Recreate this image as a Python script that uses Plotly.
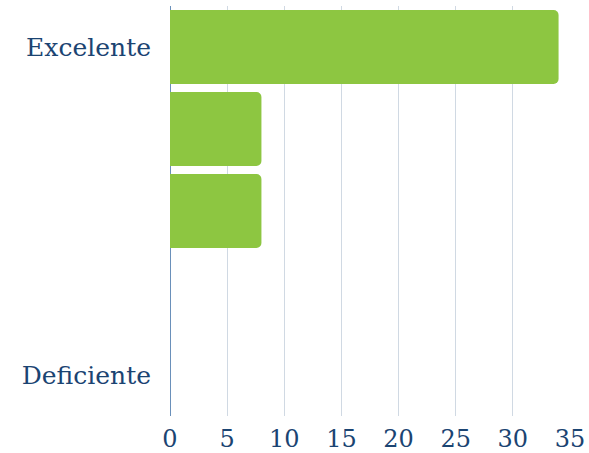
import plotly.graph_objects as go

categories = ["Excelente", "Bueno", "Regular", "Malo", "Deficiente"]
values = [34, 8, 8, 0, 0]
shown_labels = ["Excelente", "Deficiente"]
x_ticks = [0, 5, 10, 15, 20, 25, 30, 35]

text_color = "#1b4472"
bar_color = "#8dc641"

fig = go.Figure(
    go.Bar(
        x=values,
        y=categories,
        orientation="h",
        marker=dict(color=bar_color, line=dict(width=0)),
        hoverinfo="x+y",
    )
)

fig.update_layout(
    width=589,
    height=453,
    margin=dict(l=170, r=19, t=6, b=37),
    paper_bgcolor="white",
    plot_bgcolor="white",
    bargap=0.1,
    barcornerradius=5,
    showlegend=False,
    font=dict(family="DejaVu Serif", color=text_color, size=24),
)

fig.update_xaxes(
    range=[0, 35],
    tickvals=x_ticks,
    ticktext=[str(v) for v in x_ticks],
    showgrid=True,
    gridcolor="#d0d9e3",
    gridwidth=1,
    zeroline=True,
    zerolinecolor="#6a90ba",
    zerolinewidth=1,
    showline=False,
    ticks="",
    tickfont=dict(size=24, color=text_color),
    ticklabelstandoff=6,
    automargin=False,
)

fig.update_yaxes(
    categoryorder="array",
    categoryarray=categories,
    range=[4.5, -0.5],
    tickvals=shown_labels,
    ticktext=shown_labels,
    showgrid=False,
    zeroline=False,
    showline=False,
    ticks="",
    tickfont=dict(size=25, color=text_color),
    ticklabelstandoff=18,
    automargin=False,
)

fig.write_html(
    "out.html",
    config={"displayModeBar": False},
    post_script="document.body.style.margin='0';document.body.style.padding='0';",
)
